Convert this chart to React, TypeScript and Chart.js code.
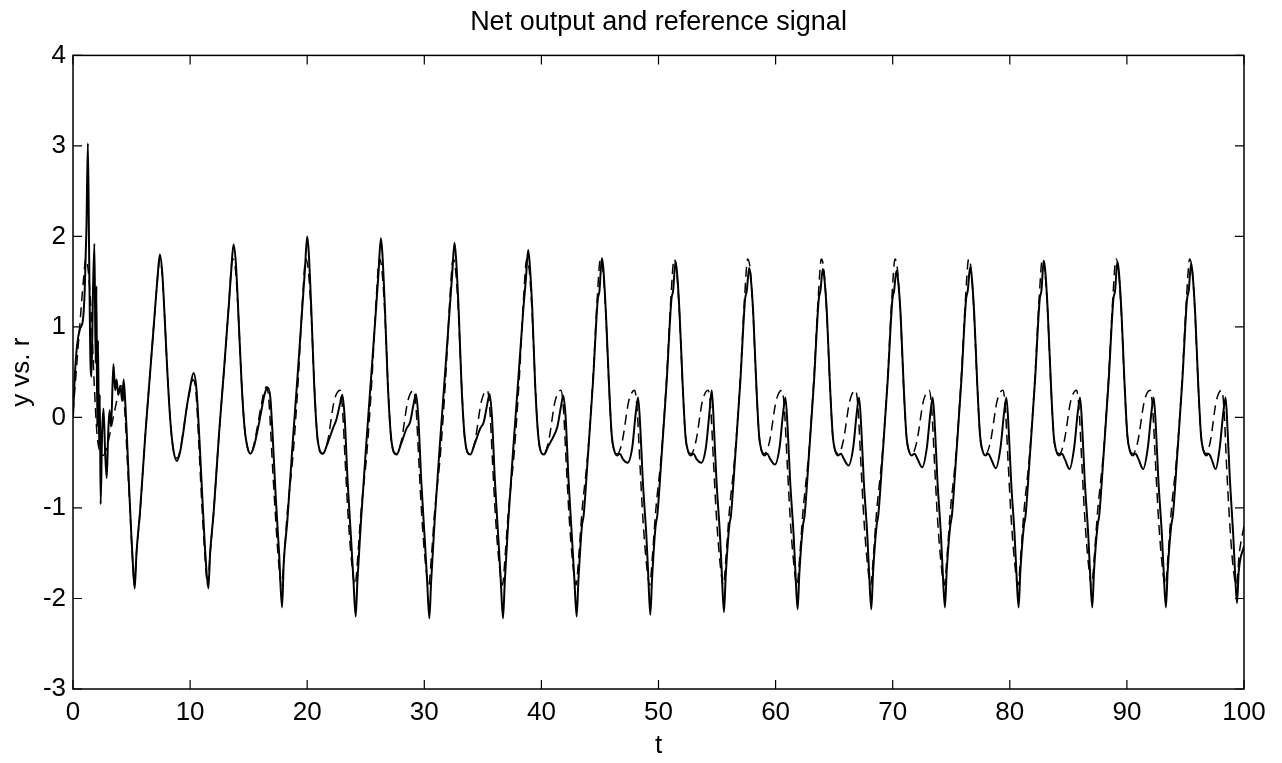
import React, { useEffect, useRef } from "react";
import { Chart, registerables } from "chart.js";

Chart.register(...registerables);

const titleText = "Net output and reference signal";
const xAxisLabel = "t";
const yAxisLabel = "y vs. r";
const xTicks = [0, 10, 20, 30, 40, 50, 60, 70, 80, 90, 100];
const yTicks = [-3, -2, -1, 0, 1, 2, 3, 4];

// Net output y(t): [t, y]
const netOutput: [number, number][] = [
  [0, 0], [0.15, 0.45], [0.35, 0.8], [0.6, 0.98], [0.85, 1.08], [1.0, 1.4], [1.15, 2.1], [1.27, 3.03], [1.37, 1.9], [1.47, 0.75], [1.58, 0.45], [1.7, 1.35], [1.83, 1.92], [1.93, 0.6], [2.0, 1.45], [2.07, -0.1], [2.14, 0.85], [2.22, -0.3], [2.29, 0.25], [2.36, -0.96], [2.48, -0.2], [2.6, 0.1], [2.75, -0.4], [2.88, -0.67], [3.0, -0.2], [3.12, 0.08], [3.25, -0.1], [3.45, 0.59], [3.6, 0.3], [3.72, 0.42], [3.87, 0.25], [4.05, 0.35], [4.2, 0.18], [4.32, 0.42], [4.45, 0.2], [4.6, -0.2], [4.8, -0.8], [5.0, -1.35], [5.15, -1.7], [5.27, -1.89],
  [5.42, -1.5], [5.72, -1.05], [6.17, -0.2], [6.62, 0.55], [7.02, 1.22], [7.22, 1.55], [7.42, 1.8],
  [7.62, 1.6], [7.85, 1.05], [8.1, 0.4], [8.35, -0.1], [8.6, -0.38], [8.88, -0.48], [9.15, -0.38], [9.4, -0.18], [9.7, 0.1], [10.0, 0.33], [10.3, 0.49], [10.55, 0.3], [10.8, -0.25], [11.05, -0.9], [11.3, -1.5], [11.56, -1.89],
  [11.71, -1.5], [12.01, -1.05], [12.46, -0.2], [12.91, 0.55], [13.31, 1.25], [13.51, 1.62], [13.71, 1.91],
  [13.91, 1.7], [14.14, 1.1], [14.39, 0.4], [14.64, -0.1], [14.9, -0.33], [15.17, -0.4], [15.45, -0.32], [15.75, -0.15], [16.05, 0.05], [16.35, 0.25], [16.62, 0.33], [16.85, 0.22], [17.05, -0.2], [17.3, -0.85], [17.6, -1.5], [17.85, -2.1],
  [18.0, -1.6], [18.3, -1.15], [18.75, -0.3], [19.2, 0.5], [19.6, 1.25], [19.8, 1.62], [20.0, 2.0],
  [20.12, 1.85], [20.35, 1.2], [20.6, 0.35], [20.9, -0.25], [21.35, -0.4], [21.7, -0.3], [22.2, -0.12], [22.5, -0.02], [22.8, 0.15], [23.0, 0.25], [23.2, 0.0], [23.45, -0.7], [23.75, -1.35], [23.95, -1.8], [24.14, -2.2],
  [24.29, -1.8], [24.59, -1.15], [25.04, -0.3], [25.49, 0.5], [25.89, 1.22], [26.09, 1.6], [26.29, 1.98],
  [26.41, 1.83], [26.64, 1.2], [26.89, 0.35], [27.19, -0.25], [27.64, -0.41], [27.99, -0.3], [28.49, -0.12], [28.79, -0.05], [29.09, 0.15], [29.29, 0.26], [29.49, 0.0], [29.74, -0.7], [30.04, -1.35], [30.24, -1.8], [30.43, -2.22],
  [30.58, -1.82], [30.88, -1.15], [31.33, -0.3], [31.78, 0.5], [32.18, 1.22], [32.38, 1.58], [32.58, 1.93],
  [32.7, 1.78], [32.93, 1.2], [33.18, 0.35], [33.48, -0.25], [33.93, -0.41], [34.28, -0.3], [34.78, -0.12], [35.08, -0.05], [35.38, 0.15], [35.58, 0.26], [35.78, 0.0], [36.03, -0.7], [36.33, -1.35], [36.53, -1.8], [36.72, -2.22],
  [36.87, -1.82], [37.17, -1.15], [37.62, -0.3], [38.07, 0.5], [38.47, 1.22], [38.67, 1.52], [38.87, 1.85],
  [38.99, 1.72], [39.22, 1.2], [39.47, 0.35], [39.77, -0.25], [40.22, -0.41], [40.57, -0.32], [41.07, -0.2], [41.37, -0.1], [41.67, 0.12], [41.87, 0.24], [42.07, 0.0], [42.32, -0.7], [42.62, -1.35], [42.82, -1.8], [43.01, -2.2],
  [43.16, -1.8], [43.46, -1.2], [43.61, -1.08], [43.96, -0.45], [44.41, 0.4], [44.81, 1.3], [44.96, 1.4], [45.16, 1.76],
  [45.28, 1.66], [45.51, 1.15], [45.76, 0.4], [46.01, -0.2], [46.21, -0.36], [46.46, -0.42], [46.71, -0.4], [46.96, -0.46], [47.36, -0.5], [47.76, -0.33], [48.06, 0.05], [48.26, 0.22], [48.46, -0.15], [48.66, -0.7], [48.96, -1.3], [49.11, -1.7], [49.3, -2.18],
  [49.45, -1.78], [49.75, -1.2], [49.9, -1.08], [50.25, -0.45], [50.7, 0.4], [51.1, 1.3], [51.25, 1.4], [51.45, 1.72],
  [51.57, 1.62], [51.8, 1.15], [52.05, 0.4], [52.3, -0.2], [52.5, -0.36], [52.75, -0.42], [53.0, -0.4], [53.25, -0.46], [53.65, -0.5], [54.05, -0.33], [54.35, 0.05], [54.55, 0.3], [54.75, -0.15], [54.95, -0.7], [55.25, -1.3], [55.4, -1.7], [55.59, -2.15],
  [55.74, -1.75], [56.04, -1.2], [56.19, -1.08], [56.54, -0.45], [56.99, 0.4], [57.39, 1.3], [57.54, 1.4], [57.74, 1.65],
  [57.86, 1.57], [58.09, 1.15], [58.34, 0.4], [58.59, -0.2], [58.79, -0.36], [59.04, -0.42], [59.29, -0.4], [59.54, -0.46], [59.94, -0.52], [60.34, -0.33], [60.64, 0.05], [60.84, 0.22], [61.04, -0.15], [61.24, -0.7], [61.54, -1.3], [61.69, -1.7], [61.88, -2.12],
  [62.03, -1.72], [62.33, -1.2], [62.48, -1.08], [62.83, -0.45], [63.28, 0.4], [63.68, 1.3], [63.83, 1.4], [64.03, 1.64],
  [64.15, 1.56], [64.38, 1.15], [64.63, 0.4], [64.88, -0.2], [65.08, -0.36], [65.33, -0.42], [65.58, -0.4], [65.83, -0.46], [66.23, -0.53], [66.63, -0.33], [66.93, 0.05], [67.13, 0.22], [67.33, -0.15], [67.53, -0.7], [67.83, -1.3], [67.98, -1.7], [68.17, -2.12],
  [68.32, -1.72], [68.62, -1.2], [68.77, -1.08], [69.12, -0.45], [69.57, 0.4], [69.97, 1.3], [70.12, 1.4], [70.32, 1.62],
  [70.44, 1.54], [70.67, 1.15], [70.92, 0.4], [71.17, -0.2], [71.37, -0.36], [71.62, -0.42], [71.87, -0.4], [72.12, -0.46], [72.52, -0.55], [72.92, -0.33], [73.22, 0.05], [73.42, 0.22], [73.62, -0.15], [73.82, -0.7], [74.12, -1.3], [74.27, -1.7], [74.46, -2.1],
  [74.61, -1.7], [74.91, -1.2], [75.06, -1.08], [75.41, -0.45], [75.86, 0.4], [76.26, 1.3], [76.41, 1.4], [76.61, 1.66],
  [76.73, 1.58], [76.96, 1.15], [77.21, 0.4], [77.46, -0.2], [77.66, -0.36], [77.91, -0.42], [78.16, -0.4], [78.41, -0.46], [78.81, -0.56], [79.21, -0.33], [79.51, 0.05], [79.71, 0.22], [79.91, -0.15], [80.11, -0.7], [80.41, -1.3], [80.56, -1.7], [80.75, -2.1],
  [80.9, -1.7], [81.2, -1.2], [81.35, -1.08], [81.7, -0.45], [82.15, 0.4], [82.55, 1.3], [82.7, 1.4], [82.9, 1.73],
  [83.02, 1.63], [83.25, 1.15], [83.5, 0.4], [83.75, -0.2], [83.95, -0.36], [84.2, -0.42], [84.45, -0.4], [84.7, -0.46], [85.1, -0.57], [85.5, -0.33], [85.8, 0.05], [86.0, 0.22], [86.2, -0.15], [86.4, -0.7], [86.7, -1.3], [86.85, -1.7], [87.04, -2.1],
  [87.19, -1.7], [87.49, -1.2], [87.64, -1.08], [87.99, -0.45], [88.44, 0.4], [88.84, 1.3], [88.99, 1.4], [89.19, 1.72],
  [89.31, 1.62], [89.54, 1.15], [89.79, 0.4], [90.04, -0.2], [90.24, -0.36], [90.49, -0.42], [90.74, -0.4], [90.99, -0.46], [91.39, -0.57], [91.79, -0.33], [92.09, 0.05], [92.29, 0.22], [92.49, -0.15], [92.69, -0.7], [92.99, -1.3], [93.14, -1.7], [93.33, -2.1],
  [93.48, -1.7], [93.78, -1.2], [93.93, -1.08], [94.28, -0.45], [94.73, 0.4], [95.13, 1.3], [95.28, 1.4], [95.48, 1.7],
  [95.6, 1.6], [95.83, 1.15], [96.08, 0.4], [96.33, -0.2], [96.53, -0.36], [96.78, -0.42], [96.98, -0.4], [97.23, -0.46], [97.58, -0.57], [97.93, -0.33], [98.23, 0.05], [98.43, 0.22], [98.6, -0.15], [98.8, -0.7], [99.08, -1.3], [99.23, -1.7], [99.4, -2.05],
  [99.55, -1.7], [100, -1.42],
];

// Reference signal r(t): [t, r]
const reference: [number, number][] = [
  [0, 0.05], [0.3, 0.55], [0.6, 1.05], [0.88, 1.5], [1.1, 1.75], [1.32, 1.6], [1.56, 1.12], [1.81, 0.38], [2.06, -0.2], [2.31, -0.38], [2.56, -0.42], [2.85, -0.35], [3.2, -0.15], [3.6, 0.1], [3.95, 0.3], [4.2, 0.35], [4.4, 0.12], [4.65, -0.5], [4.9, -1.1], [5.1, -1.6], [5.25, -1.85],
  [5.42, -1.5], [5.72, -1.05], [6.17, -0.2], [6.62, 0.55], [7.02, 1.22], [7.3, 1.65], [7.4, 1.75], [7.62, 1.58], [7.85, 1.05], [8.1, 0.4], [8.35, -0.1], [8.6, -0.38], [8.88, -0.45], [9.15, -0.36], [9.4, -0.16], [9.7, 0.1], [10.0, 0.3], [10.25, 0.42], [10.5, 0.28], [10.75, -0.3], [11.0, -0.95], [11.25, -1.5], [11.5, -1.85],
  [11.71, -1.5], [12.01, -1.05], [12.46, -0.2], [12.91, 0.55], [13.31, 1.25], [13.55, 1.7], [13.65, 1.75], [13.9, 1.6], [14.14, 1.08], [14.39, 0.4], [14.64, -0.1], [14.9, -0.33], [15.17, -0.4], [15.45, -0.3], [15.75, -0.1], [16.05, 0.12], [16.35, 0.3], [16.55, 0.34], [16.75, 0.15], [17.0, -0.45], [17.25, -1.0], [17.5, -1.5], [17.8, -1.85],
  [18.05, -1.5], [18.3, -1.05], [18.8, -0.4], [19.25, 0.45], [19.6, 1.3], [19.88, 1.75], [20.1, 1.62], [20.35, 1.12], [20.6, 0.38], [20.85, -0.2], [21.1, -0.38], [21.35, -0.4], [21.75, -0.26], [22.3, 0.18], [22.8, 0.3], [23.0, 0.12], [23.25, -0.5], [23.5, -1.1], [23.8, -1.6], [24.09, -1.85],
  [24.34, -1.5], [24.59, -1.05], [25.09, -0.4], [25.54, 0.45], [25.89, 1.3], [26.17, 1.75], [26.39, 1.62], [26.64, 1.12], [26.89, 0.38], [27.14, -0.2], [27.39, -0.38], [27.64, -0.4], [28.04, -0.26], [28.59, 0.18], [29.09, 0.3], [29.29, 0.12], [29.54, -0.5], [29.79, -1.1], [30.09, -1.6], [30.38, -1.85],
  [30.63, -1.5], [30.88, -1.05], [31.38, -0.4], [31.83, 0.45], [32.18, 1.3], [32.46, 1.75], [32.68, 1.62], [32.93, 1.12], [33.18, 0.38], [33.43, -0.2], [33.68, -0.38], [33.93, -0.4], [34.33, -0.26], [34.88, 0.18], [35.38, 0.3], [35.58, 0.12], [35.83, -0.5], [36.08, -1.1], [36.38, -1.6], [36.67, -1.85],
  [36.92, -1.5], [37.17, -1.05], [37.67, -0.4], [38.12, 0.45], [38.47, 1.3], [38.75, 1.75], [38.97, 1.62], [39.22, 1.12], [39.47, 0.38], [39.72, -0.2], [39.97, -0.38], [40.22, -0.4], [40.62, -0.26], [41.17, 0.18], [41.67, 0.3], [41.87, 0.12], [42.12, -0.5], [42.37, -1.1], [42.67, -1.6], [42.96, -1.85],
  [43.21, -1.5], [43.46, -1.05], [43.96, -0.4], [44.41, 0.45], [44.76, 1.3], [45.04, 1.75], [45.26, 1.62], [45.51, 1.12], [45.76, 0.38], [46.01, -0.2], [46.26, -0.38], [46.51, -0.4], [46.91, -0.26], [47.46, 0.18], [47.96, 0.3], [48.16, 0.12], [48.41, -0.5], [48.66, -1.1], [48.96, -1.6], [49.25, -1.85],
  [49.5, -1.5], [49.75, -1.05], [50.25, -0.4], [50.7, 0.45], [51.05, 1.3], [51.33, 1.75], [51.55, 1.62], [51.8, 1.12], [52.05, 0.38], [52.3, -0.2], [52.55, -0.38], [52.8, -0.4], [53.2, -0.26], [53.75, 0.18], [54.25, 0.3], [54.45, 0.12], [54.7, -0.5], [54.95, -1.1], [55.25, -1.6], [55.54, -1.85],
  [55.79, -1.5], [56.04, -1.05], [56.54, -0.4], [56.99, 0.45], [57.34, 1.3], [57.62, 1.75], [57.84, 1.62], [58.09, 1.12], [58.34, 0.38], [58.59, -0.2], [58.84, -0.38], [59.09, -0.4], [59.49, -0.26], [60.04, 0.18], [60.54, 0.3], [60.74, 0.12], [60.99, -0.5], [61.24, -1.1], [61.54, -1.6], [61.83, -1.85],
  [62.08, -1.5], [62.33, -1.05], [62.83, -0.4], [63.28, 0.45], [63.63, 1.3], [63.91, 1.75], [64.13, 1.62], [64.38, 1.12], [64.63, 0.38], [64.88, -0.2], [65.13, -0.38], [65.38, -0.4], [65.78, -0.26], [66.33, 0.18], [66.83, 0.3], [67.03, 0.12], [67.28, -0.5], [67.53, -1.1], [67.83, -1.6], [68.12, -1.85],
  [68.37, -1.5], [68.62, -1.05], [69.12, -0.4], [69.57, 0.45], [69.92, 1.3], [70.2, 1.75], [70.42, 1.62], [70.67, 1.12], [70.92, 0.38], [71.17, -0.2], [71.42, -0.38], [71.67, -0.4], [72.07, -0.26], [72.62, 0.18], [73.12, 0.3], [73.32, 0.12], [73.57, -0.5], [73.82, -1.1], [74.12, -1.6], [74.41, -1.85],
  [74.66, -1.5], [74.91, -1.05], [75.41, -0.4], [75.86, 0.45], [76.21, 1.3], [76.49, 1.75], [76.71, 1.62], [76.96, 1.12], [77.21, 0.38], [77.46, -0.2], [77.71, -0.38], [77.96, -0.4], [78.36, -0.26], [78.91, 0.18], [79.41, 0.3], [79.61, 0.12], [79.86, -0.5], [80.11, -1.1], [80.41, -1.6], [80.7, -1.85],
  [80.95, -1.5], [81.2, -1.05], [81.7, -0.4], [82.15, 0.45], [82.5, 1.3], [82.78, 1.75], [83.0, 1.62], [83.25, 1.12], [83.5, 0.38], [83.75, -0.2], [84.0, -0.38], [84.25, -0.4], [84.65, -0.26], [85.2, 0.18], [85.7, 0.3], [85.9, 0.12], [86.15, -0.5], [86.4, -1.1], [86.7, -1.6], [86.99, -1.85],
  [87.24, -1.5], [87.49, -1.05], [87.99, -0.4], [88.44, 0.45], [88.79, 1.3], [89.07, 1.75], [89.29, 1.62], [89.54, 1.12], [89.79, 0.38], [90.04, -0.2], [90.29, -0.38], [90.54, -0.4], [90.94, -0.26], [91.49, 0.18], [91.99, 0.3], [92.19, 0.12], [92.44, -0.5], [92.69, -1.1], [92.99, -1.6], [93.28, -1.85],
  [93.53, -1.5], [93.78, -1.05], [94.28, -0.4], [94.73, 0.45], [95.08, 1.3], [95.36, 1.75], [95.58, 1.62], [95.83, 1.12], [96.08, 0.38], [96.33, -0.2], [96.58, -0.38], [96.78, -0.4], [97.13, -0.26], [97.63, 0.18], [98.08, 0.3], [98.28, 0.12], [98.5, -0.5], [98.75, -1.1], [99.03, -1.6], [99.35, -1.85],
  [99.6, -1.5], [100, -1.2],
];

const FONT = "'Liberation Sans', Arial, Helvetica, sans-serif";

const framePlugin = {
  id: "matlabFrame",
  afterDatasetsDraw(chart: any) {
    const { ctx, chartArea, scales } = chart;
    const { left, right, top, bottom } = chartArea;
    const L = 9;
    ctx.save();
    ctx.strokeStyle = "#000";
    ctx.lineWidth = 1.5;
    ctx.strokeRect(left, top, right - left, bottom - top);
    ctx.lineWidth = 1.2;
    ctx.beginPath();
    xTicks.forEach((v) => {
      const x = scales.x.getPixelForValue(v);
      ctx.moveTo(x, bottom);
      ctx.lineTo(x, bottom - L);
      ctx.moveTo(x, top);
      ctx.lineTo(x, top + L);
    });
    yTicks.forEach((v) => {
      const y = scales.y.getPixelForValue(v);
      ctx.moveTo(left, y);
      ctx.lineTo(left + L, y);
      ctx.moveTo(right, y);
      ctx.lineTo(right - L, y);
    });
    ctx.stroke();
    ctx.restore();
  },
};

export default function App() {
  const canvasRef = useRef<HTMLCanvasElement | null>(null);

  useEffect(() => {
    if (!canvasRef.current) return;
    Chart.defaults.font.family = FONT;
    Chart.defaults.color = "#000";
    const chart = new Chart(canvasRef.current, {
      type: "line",
      data: {
        datasets: [
          {
            label: "y",
            data: netOutput.map(([x, y]) => ({ x, y })),
            borderColor: "#000",
            borderWidth: 2,
            pointRadius: 0,
            fill: false,
            cubicInterpolationMode: "monotone",
          },
          {
            label: "r",
            data: reference.map(([x, y]) => ({ x, y })),
            borderColor: "#000",
            borderWidth: 1.5,
            borderDash: [10, 6],
            pointRadius: 0,
            fill: false,
            cubicInterpolationMode: "monotone",
          },
        ],
      },
      options: {
        animation: false,
        responsive: false,
        layout: { padding: { left: 0, right: 38, top: 0, bottom: 0 } },
        plugins: {
          legend: { display: false },
          tooltip: { enabled: false },
          title: {
            display: true,
            text: titleText,
            color: "#000",
            fullSize: false,
            font: { size: 27, weight: "normal", family: FONT },
            padding: { top: 6, bottom: 17 },
          },
        },
        scales: {
          x: {
            type: "linear",
            min: 0,
            max: 100,
            afterBuildTicks: (s: any) => {
              s.ticks = xTicks.map((v) => ({ value: v }));
            },
            afterFit: (s: any) => {
              s.height = 74;
            },
            grid: { display: false, drawTicks: false, tickLength: 0 },
            border: { display: false },
            ticks: {
              color: "#000",
              padding: 8,
              maxRotation: 0,
              autoSkip: false,
              font: { size: 26, family: FONT },
            },
            title: {
              display: true,
              text: xAxisLabel,
              color: "#000",
              font: { size: 26, family: FONT },
              padding: { top: 0, bottom: 2 },
            },
          },
          y: {
            type: "linear",
            min: -3,
            max: 4,
            afterBuildTicks: (s: any) => {
              s.ticks = yTicks.map((v) => ({ value: v }));
            },
            afterFit: (s: any) => {
              s.width = 73;
            },
            grid: { display: false, drawTicks: false, tickLength: 0 },
            border: { display: false },
            ticks: {
              color: "#000",
              padding: 7,
              autoSkip: false,
              font: { size: 26, family: FONT },
            },
            title: {
              display: true,
              text: yAxisLabel,
              color: "#000",
              font: { size: 26, family: FONT },
              padding: { top: 6, bottom: 0 },
            },
          },
        },
      },
      plugins: [framePlugin],
    } as any);
    return () => chart.destroy();
  }, []);

  return (
    <div
      style={{
        position: "absolute",
        left: 0,
        top: 0,
        width: 1282,
        height: 763,
        background: "#fff",
      }}
    >
      <canvas ref={canvasRef} width={1282} height={763} style={{ display: "block" }} />
    </div>
  );
}
